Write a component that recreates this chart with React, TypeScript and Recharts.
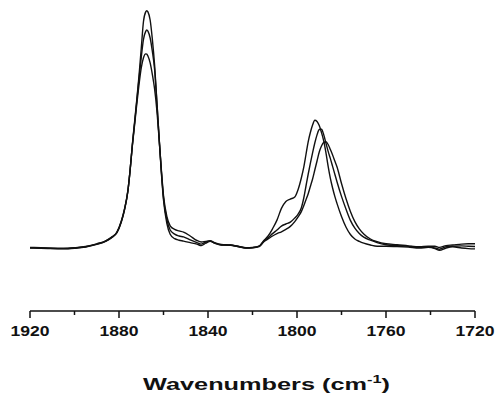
import React from 'react';
import { LineChart, Line, XAxis, YAxis } from 'recharts';

// wavenumber grid (cm-1), shared by the three spectra
const wavenumbers = [
  1920, 1912, 1905, 1900, 1895, 1890, 1886, 1883, 1881, 1879,
  1877.5, 1876, 1875, 1874, 1873, 1872, 1871, 1870, 1869, 1868,
  1867.5, 1867, 1866, 1865, 1864, 1863, 1862, 1861, 1860, 1858.5,
  1857, 1855, 1853, 1851, 1848, 1845, 1843, 1841, 1839, 1837,
  1834, 1830, 1826, 1823, 1820, 1817,
  1815, 1813, 1811, 1809, 1807, 1805, 1803, 1801, 1799.5, 1798,
  1797, 1796, 1795, 1794, 1793, 1792, 1791, 1790, 1789, 1788,
  1787, 1786, 1785, 1784, 1783, 1782, 1780, 1778, 1776, 1774,
  1772, 1770, 1767, 1764, 1760, 1755, 1750, 1745, 1741, 1738,
  1736, 1733, 1730, 1726, 1723, 1720,
];

const spectrumA = [
  -0.010, -0.012, -0.013, -0.011, -0.007, 0.002, 0.012, 0.026, 0.040, 0.076,
  0.118, 0.180, 0.250, 0.335, 0.410, 0.485, 0.565, 0.655, 0.745, 0.777,
  0.781, 0.777, 0.750, 0.685, 0.600, 0.480, 0.360, 0.245, 0.150, 0.072,
  0.036, 0.021, 0.016, 0.013, 0.008, 0.003, -0.002, 0.006, 0.012, 0.006,
  0.000, -0.001, -0.006, -0.010, -0.009, -0.004,
  0.014, 0.030, 0.054, 0.083, 0.122, 0.145, 0.153, 0.160, 0.185, 0.225,
  0.258, 0.300, 0.343, 0.375, 0.400, 0.416, 0.412, 0.398, 0.375, 0.347,
  0.308, 0.262, 0.222, 0.190, 0.162, 0.138, 0.095, 0.060, 0.035, 0.020,
  0.012, 0.006, 0.000, -0.004, -0.004, -0.005, -0.007, -0.010, -0.008, -0.012,
  -0.018, -0.010, -0.006, -0.010, -0.012, -0.013,
];

const spectrumB = [
  -0.009, -0.011, -0.012, -0.010, -0.006, 0.003, 0.013, 0.027, 0.041, 0.077,
  0.119, 0.180, 0.250, 0.333, 0.405, 0.480, 0.555, 0.625, 0.685, 0.712,
  0.717, 0.713, 0.690, 0.645, 0.585, 0.478, 0.362, 0.250, 0.157, 0.085,
  0.050, 0.036, 0.030, 0.027, 0.017, 0.008, 0.003, 0.010, 0.014, 0.008,
  0.002, 0.000, -0.005, -0.009, -0.008, -0.004,
  0.012, 0.024, 0.038, 0.050, 0.063, 0.070, 0.076, 0.090, 0.103, 0.125,
  0.155, 0.195, 0.235, 0.272, 0.307, 0.340, 0.367, 0.385, 0.386, 0.368,
  0.340, 0.312, 0.288, 0.262, 0.236, 0.210, 0.162, 0.120, 0.082, 0.056,
  0.038, 0.026, 0.016, 0.008, 0.001, -0.002, -0.004, -0.008, -0.006, -0.010,
  -0.014, -0.006, -0.004, -0.003, -0.004, -0.005,
];

const spectrumC = [
  -0.008, -0.010, -0.011, -0.009, -0.005, 0.004, 0.014, 0.028, 0.042, 0.079,
  0.121, 0.182, 0.250, 0.330, 0.400, 0.470, 0.535, 0.590, 0.624, 0.637,
  0.636, 0.630, 0.607, 0.568, 0.520, 0.450, 0.355, 0.255, 0.165, 0.095,
  0.064, 0.052, 0.047, 0.043, 0.030, 0.015, 0.010, 0.012, 0.013, 0.006,
  0.000, 0.000, -0.006, -0.010, -0.009, -0.005,
  0.010, 0.020, 0.030, 0.038, 0.044, 0.052, 0.062, 0.078, 0.094, 0.112,
  0.130, 0.150, 0.170, 0.195, 0.220, 0.250, 0.280, 0.310, 0.330, 0.342,
  0.344, 0.335, 0.318, 0.300, 0.280, 0.260, 0.205, 0.155, 0.112, 0.078,
  0.054, 0.037, 0.020, 0.011, 0.004, 0.001, -0.003, -0.006, -0.004, -0.004,
  -0.008, -0.002, 0.000, 0.003, 0.004, 0.004,
];

const xTicks = [1920, 1900, 1880, 1860, 1840, 1820, 1800, 1780, 1760, 1740, 1720];

const data = wavenumbers.map((wn, i) => ({
  wn,
  a: spectrumA[i],
  b: spectrumB[i],
  c: spectrumC[i],
}));

const ink = '#111111';
const font = '"Liberation Sans", Arial, sans-serif';

const AxisTick = (props: any) => {
  const { x, y, payload } = props;
  const major = payload.value % 40 === 0;
  return (
    <g>
      <line x1={x} y1={y} x2={x} y2={y + (major ? 7 : 4)} stroke={ink} strokeWidth={1.5} />
      {major && (
        <text
          x={x}
          y={y + 25}
          textAnchor="middle"
          fontFamily={font}
          fontWeight="bold"
          fontSize={15}
          fill={ink}
          textLength={39}
          lengthAdjust="spacingAndGlyphs"
        >
          {payload.value}
        </text>
      )}
    </g>
  );
};

const AxisTitle = (props: any) => {
  const vb = props.viewBox || { x: 30, y: 311, width: 445 };
  return (
    <text
      x={vb.x + vb.width / 2 + 14}
      y={vb.y + 79}
      textAnchor="middle"
      fontFamily={font}
      fontWeight="bold"
      fontSize={17}
      fill={ink}
      textLength={247}
      lengthAdjust="spacingAndGlyphs"
    >
      Wavenumbers (cm
      <tspan dy={-7} fontSize={11}>-1</tspan>
      <tspan dy={7}>)</tspan>
    </text>
  );
};

export default function App() {
  return (
    <div style={{ position: 'absolute', left: 0, top: 0, width: 498, height: 400, background: '#fff' }}>
      <LineChart width={498} height={400} data={data} margin={{ top: 5, right: 23, left: 30, bottom: 0 }}>
        <XAxis
          dataKey="wn"
          type="number"
          domain={[1720, 1920]}
          reversed
          ticks={xTicks}
          interval={0}
          height={89}
          tickLine={false}
          tickSize={0}
          tickMargin={0}
          tick={<AxisTick />}
          axisLine={{ stroke: ink, strokeWidth: 1.5 }}
          label={{ content: <AxisTitle /> }}
        />
        <YAxis hide domain={[-0.22, 0.8]} allowDataOverflow />
        <Line type="monotone" dataKey="a" stroke={ink} strokeWidth={1.4} dot={false} isAnimationActive={false} />
        <Line type="monotone" dataKey="b" stroke={ink} strokeWidth={1.4} dot={false} isAnimationActive={false} />
        <Line type="monotone" dataKey="c" stroke={ink} strokeWidth={1.4} dot={false} isAnimationActive={false} />
      </LineChart>
    </div>
  );
}
